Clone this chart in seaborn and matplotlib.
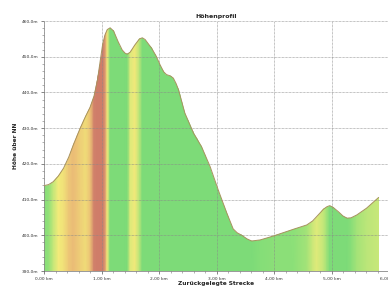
import numpy as np
import pandas as pd
import matplotlib
matplotlib.use("Agg")
import matplotlib.pyplot as plt
from matplotlib.colors import LinearSegmentedColormap, Normalize
from matplotlib.ticker import FixedLocator, MultipleLocator
import seaborn as sns

# distance (km) and elevation (m)
distance_km = [0.00, 0.08, 0.16, 0.25, 0.34, 0.43, 0.51, 0.63, 0.72, 0.80,
               0.87, 0.93, 0.97, 1.02, 1.06, 1.10, 1.15, 1.21, 1.29, 1.36,
               1.41, 1.45, 1.50, 1.58, 1.66, 1.71, 1.76, 1.87, 1.95, 2.02,
               2.08, 2.13, 2.20, 2.25, 2.30, 2.34, 2.45, 2.60, 2.74, 2.89,
               3.03, 3.18, 3.29, 3.36, 3.44, 3.53, 3.61, 3.76, 3.99, 4.34,
               4.57, 4.67, 4.74, 4.86, 4.92, 4.97, 5.03, 5.12, 5.20, 5.27,
               5.34, 5.44, 5.61, 5.82]
elevation_m = [413.9, 414.2, 415.0, 416.6, 418.8, 421.9, 425.3, 430.0, 433.2, 435.8,
               439.0, 443.5, 448.0, 453.5, 456.1, 457.6, 458.1, 457.2, 454.2, 451.9,
               451.0, 450.7, 451.3, 453.3, 455.0, 455.3, 454.8, 452.4, 450.2, 447.7,
               445.8, 445.0, 444.6, 444.0, 442.4, 440.7, 434.2, 428.6, 424.8, 419.2,
               412.7, 406.2, 401.8, 400.7, 400.0, 399.0, 398.4, 398.7, 399.8, 401.7,
               402.9, 404.0, 405.2, 407.3, 408.0, 408.3, 407.8, 406.6, 405.4, 404.8,
               404.9, 405.7, 407.6, 410.6]

x_ticks = [0, 1, 2, 3, 4, 5, 6]
x_tick_labels = ["0,00 km", "1,00 km", "2,00 km", "3,00 km", "4,00 km", "5,00 km", "6,00 km"]
y_ticks = [390, 400, 410, 420, 430, 440, 450, 460]
y_tick_labels = ["390,0m", "400,0m", "410,0m", "420,0m", "430,0m", "440,0m", "450,0m", "460,0m"]

df = pd.DataFrame({"km": distance_km, "m": elevation_m})

sns.set_theme(style="white")
plt.rcParams['font.family'] = ['DejaVu Sans']

fig = plt.figure(figsize=(3.88, 2.88), dpi=100)
ax = fig.add_axes([44/388, 1-271/288, (389-44)/388, (271-21)/288])

x = np.array(distance_km)
y = np.array(elevation_m)
slope = np.gradient(y, x)  # m per km
slope = np.clip(slope, 0, None)

cmap = LinearSegmentedColormap.from_list("grade", [
    (0.00, (0.49, 0.86, 0.47)),
    (0.07, (0.56, 0.88, 0.47)),
    (0.22, (0.95, 0.93, 0.48)),
    (0.38, (0.94, 0.86, 0.47)),
    (0.47, (0.92, 0.72, 0.46)),
    (0.62, (0.82, 0.51, 0.42)),
    (1.00, (0.81, 0.49, 0.41)),
])
norm = Normalize(0, 90)

X = np.vstack([x, x])
Y = np.vstack([np.full_like(x, 390.0), np.full_like(x, 460.0)])
C = np.vstack([slope, slope])
mesh = ax.pcolormesh(X, Y, C, shading="gouraud", cmap=cmap, norm=norm, zorder=1)
poly = ax.fill_between(x, y, 390, facecolor="none", edgecolor="none", zorder=2)
mesh.set_clip_path(poly.get_paths()[0], transform=ax.transData)

sns.lineplot(data=df, x="km", y="m", ax=ax, color="#a8925f", linewidth=0.7, zorder=3)

ax.set_xlim(0, 6)
ax.set_ylim(390, 460)
ax.xaxis.set_major_locator(FixedLocator(x_ticks))
ax.set_xticklabels(x_tick_labels)
ax.yaxis.set_major_locator(FixedLocator(y_ticks))
ax.set_yticklabels(y_tick_labels)
ax.xaxis.set_minor_locator(MultipleLocator(0.2))
ax.yaxis.set_minor_locator(MultipleLocator(2))
ax.tick_params(axis="both", which="major", labelsize=3.2, length=2.5, width=0.5,
               colors="#555555", pad=1.5, bottom=True, left=True)
ax.tick_params(axis="both", which="minor", length=1.5, width=0.4, colors="#777777",
               bottom=True, left=True)
for lab in ax.get_xticklabels() + ax.get_yticklabels():
    lab.set_color("#333333")

ax.grid(True, which="major", linestyle=(0, (1, 1)), color="#888888", linewidth=0.5)
ax.set_axisbelow(False)
for side in ["top", "right"]:
    ax.spines[side].set_visible(False)
ax.spines["left"].set_color("#888888")
ax.spines["left"].set_linewidth(0.5)
ax.spines["left"].set_linestyle((0, (1, 1)))
ax.spines["bottom"].set_color("#888888")
ax.spines["bottom"].set_linewidth(0.6)

ax.set_xlabel("Zurückgelegte Strecke", fontsize=4.2, fontweight="bold", labelpad=0.5)
ax.set_ylabel("Höhe über NN", fontsize=4.2, fontweight="bold", labelpad=3)
ax.set_title("Höhenprofil", fontsize=4.5, fontweight="bold", pad=2.5)

fig.savefig("out.png", dpi=100)
